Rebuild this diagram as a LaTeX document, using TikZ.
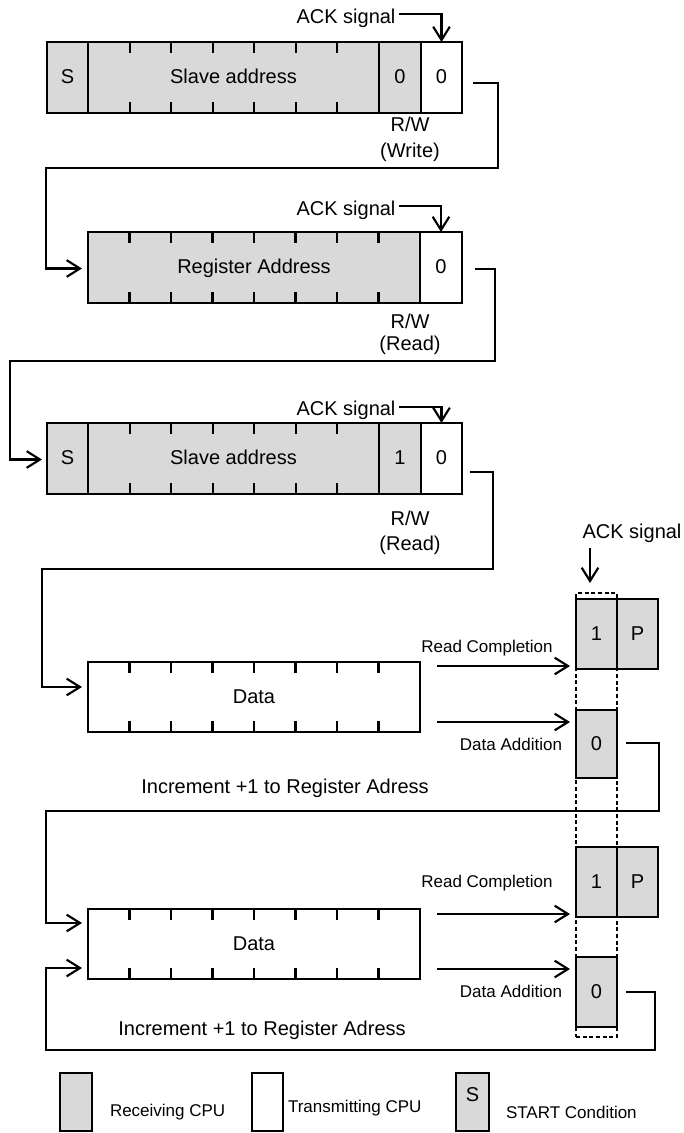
\documentclass[tikz,border=0pt]{standalone}
\usepackage{fontspec}
\setmainfont{Liberation Sans}
\usetikzlibrary{arrows.meta,calc}
\definecolor{rcv}{RGB}{217,217,217}
\begin{document}
\begin{tikzpicture}[x=0.75pt,y=-0.75pt,
  every node/.style={inner sep=0pt,outer sep=0pt},
  big/.style={font=\fontsize{15}{18}\selectfont},
  small/.style={font=\fontsize{12.75}{15}\selectfont},
  cellw/.style={minimum width={#1*0.75pt}},
  cellh/.style={minimum height={#1*0.75pt}},
  cellbase/.style={draw,line width=1.6pt,big,text height=1.8ex,text depth=0pt},
  rcvcell/.style={cellbase,fill=rcv},
  trcell/.style={cellbase,fill=white},
  tick/.style={line width=1.6pt},
  arr/.style={line width=1.6pt,-{Straight Barb[length=10pt,width=12.5pt]}},
  conn/.style={arr,line cap=butt},
  dashbox/.style={draw,line width=1.6pt,dash pattern=on 3pt off 2pt},
  rwlbl/.style={big,align=center}
]
\useasboundingbox (0,0) rectangle (684,1133);

% ---------- Block 1 ----------
\node[rcvcell,cellw=41,cellh=71] (s1) at (67.5,77.5) {S};
\node[rcvcell,cellw=291,cellh=71] (sa1) at (233.5,77.5) {Slave address};
\node[rcvcell,cellw=42,cellh=71] (rw1) at (400,77.5) {0};
\node[trcell,cellw=41,cellh=71] (ack1) at (441.5,77.5) {0};
\foreach \k in {1,...,6}{
  \draw[tick] ($(sa1.north west)!{\k/7}!(sa1.north east)$) -- ++(0,11);
  \draw[tick] ($(sa1.south west)!{\k/7}!(sa1.south east)$) -- ++(0,-11);
}
\node[big] (ackl1) at (346,18) {ACK signal};
\draw[arr] ($(ackl1.east)+(4,-4)$) -| (ack1.north);
\node[rwlbl,font=\fontsize{15}{19.5}\selectfont] (rwl1) at (410,139) {R/W\\(Write)};

% ---------- Block 2 ----------
\node[rcvcell,cellw=332,cellh=71] (ra) at (254,267.5) {Register Address};
\node[trcell,cellw=42,cellh=71] (ack2) at (441,267.5) {0};
\foreach \k in {1,...,7}{
  \draw[tick] ($(ra.north west)!{\k/8}!(ra.north east)$) -- ++(0,11);
  \draw[tick] ($(ra.south west)!{\k/8}!(ra.south east)$) -- ++(0,-11);
}
\node[big] (ackl2) at (346,210) {ACK signal};
\draw[arr] ($(ackl2.east)+(4,-4)$) -| (ack2.north);
\node[rwlbl,font=\fontsize{15}{16.5}\selectfont] (rwl2) at (410,334) {R/W\\(Read)};

% ---------- Block 3 ----------
\node[rcvcell,cellw=41,cellh=71] (s3) at (67.5,458.5) {S};
\node[rcvcell,cellw=291,cellh=71] (sa3) at (233.5,458.5) {Slave address};
\node[rcvcell,cellw=42,cellh=71] (rw3) at (400,458.5) {1};
\node[trcell,cellw=41,cellh=71] (ack3) at (441.5,458.5) {0};
\foreach \k in {1,...,6}{
  \draw[tick] ($(sa3.north west)!{\k/7}!(sa3.north east)$) -- ++(0,11);
  \draw[tick] ($(sa3.south west)!{\k/7}!(sa3.south east)$) -- ++(0,-11);
}
\node[big] (ackl3) at (346,410) {ACK signal};
\draw[arr] ($(ackl3.east)+(4,-3)$) -| (ack3.north);
\node[rwlbl,font=\fontsize{15}{19}\selectfont] (rwl3) at (410,533) {R/W\\(Read)};

% ---------- Data blocks ----------
\node[trcell,cellw=332,cellh=70] (d1) at (254,697) {Data};
\node[trcell,cellw=332,cellh=70] (d2) at (254,944) {Data};
\foreach \n in {d1,d2}{
  \foreach \k in {1,...,7}{
    \draw[tick] ($(\n.north west)!{\k/8}!(\n.north east)$) -- ++(0,11);
    \draw[tick] ($(\n.south west)!{\k/8}!(\n.south east)$) -- ++(0,-11);
  }
}

% ---------- ACK column ----------
\node[dashbox,cellw=41,cellh=444] (ackcol) at (596.5,815) {};
\node[rcvcell,cellw=41,cellh=70] (one1) at (596.5,634) {1};
\node[rcvcell,cellw=41,cellh=70] (p1) at (637.5,634) {P};
\node[rcvcell,cellw=41,cellh=68] (zero1) at (596.5,744) {0};
\node[rcvcell,cellw=41,cellh=70] (one2) at (596.5,882) {1};
\node[rcvcell,cellw=41,cellh=70] (p2) at (637.5,882) {P};
\node[rcvcell,cellw=41,cellh=70] (zero2) at (596.5,992) {0};
\node[big] (ackl4) at (632,533) {ACK signal};
\draw[arr] ($(ackcol.north)+(-6.5,-45)$) -- ($(ackcol.north)+(-6.5,-10)$);

% ---------- Read Completion / Data Addition ----------
\draw[arr,shorten >=4.5pt] ($(d1.east)+(17,-31)$) -- ([yshift=2.25pt]one1.south west);
\draw[arr,shorten >=4.5pt] ($(d1.east)+(17,25)$) -- ([yshift=-9pt]zero1.north west);
\draw[arr,shorten >=4.5pt] ($(d2.east)+(17,-30)$) -- ([yshift=2.25pt]one2.south west);
\draw[arr,shorten >=4.5pt] ($(d2.east)+(17,25)$) -- ([yshift=-9pt]zero2.north west);
\node[small] (rc1) at (487,648) {Read Completion};
\node[small,anchor=east] (da1) at (562,744) {Data Addition};
\node[small] (rc2) at (487,883) {Read Completion};
\node[small,anchor=east] (da2) at (562,991) {Data Addition};

% ---------- Connectors ----------
\draw[conn,shorten >=4.5pt] ($(ack1.east)+(11,5.5)$) -- ++(25,0) -- ++(0,85) -| (46,268.5) -- ([yshift=-0.75pt]ra.west);
\draw[conn,shorten >=3.75pt] ($(ack2.east)+(13,1.5)$) -- ++(20,0) -- ++(0,92) -| (10,459.5) -- ([yshift=-0.75pt]s3.west);
\draw[conn,shorten >=4.5pt] ($(ack3.east)+(8,13.5)$) -- ++(23,0) -- ++(0,97) -| (42,687) -- ([yshift=7.5pt]d1.west);
\draw[conn,shorten >=4.5pt] ($(zero1.east)+(9,-1)$) -- ++(33,0) -- ++(0,68) -| (46,923) -- ([yshift=15.75pt]d2.west);
\draw[conn,shorten >=4.5pt] ($(zero2.east)+(9,0)$) -- ++(29,0) -- ++(0,58) -| (46,968) -- ([yshift=-18pt]d2.west);

\node[big] (inc1) at (285,788) {Increment +1 to Register Adress};
\node[big] (inc2) at (262,1030) {Increment +1 to Register Adress};

% ---------- Legend ----------
\node[rcvcell,cellw=32,cellh=58] (lg1) at (76,1102) {};
\node[small,anchor=west] (lt1) at (110,1112) {Receiving CPU};
\node[trcell,cellw=31,cellh=58] (lg2) at (267.5,1102) {};
\node[small,anchor=west] (lt2) at (288,1108) {Transmitting CPU};
\node[rcvcell,cellw=33,cellh=58] (lg3) at (472.5,1102) {};
\node[big] (lgs) at (472.5,1095) {S};
\node[small,anchor=west] (lt3) at (506,1112) {START Condition};
\end{tikzpicture}
\end{document}
